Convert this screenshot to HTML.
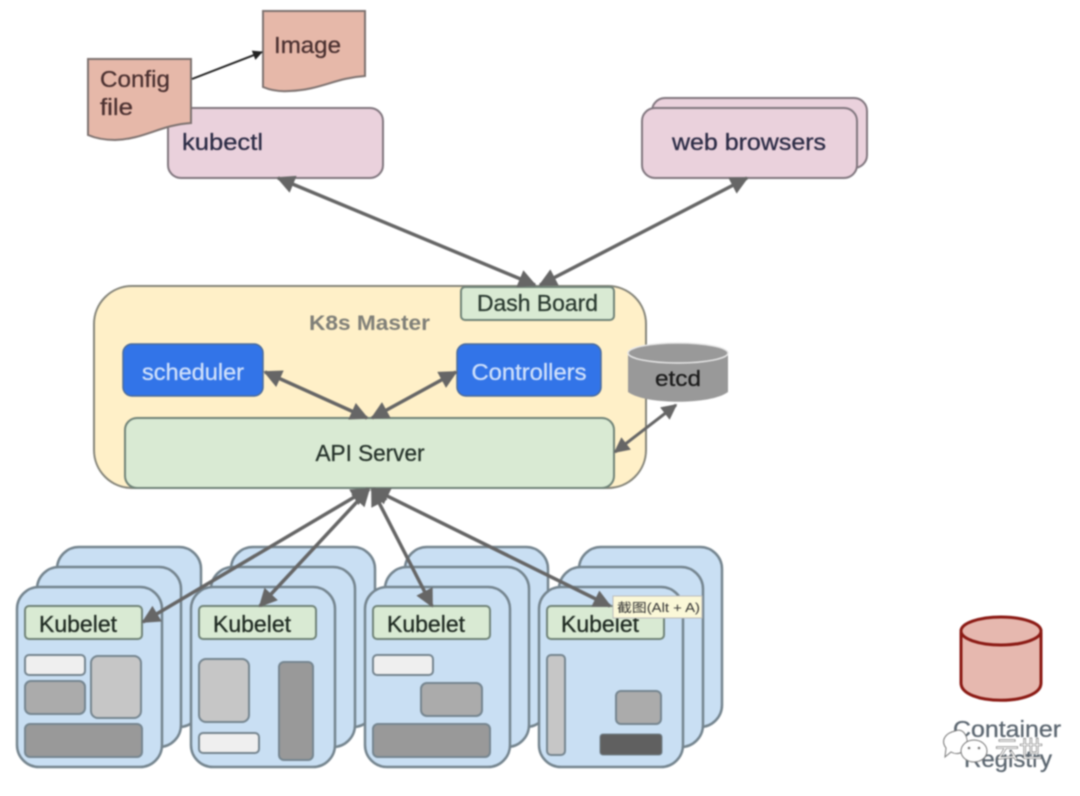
<!DOCTYPE html>
<html>
<head>
<meta charset="utf-8">
<style>
html,body{margin:0;padding:0;background:#fff;width:1080px;height:796px;overflow:hidden}
svg{display:block;filter:blur(.8px)}
text{font-family:"Liberation Sans","Noto Sans CJK SC",sans-serif;stroke:currentColor;stroke-width:.3}
.n{fill:#c9dff3;stroke:#75858f;stroke-width:2.5}
.g{fill:#d9ead3;stroke:#708378;stroke-width:2}
.l{fill:#c6c6c6;stroke:#75858f;stroke-width:2}
.m{fill:#ababab;stroke:#75858f;stroke-width:2}
.d{fill:#999;stroke:#75858f;stroke-width:2}
.w{fill:#efefef;stroke:#75858f;stroke-width:2}
.k{font-size:23px;fill:#1f2a22;color:#1f2a22}
.a{stroke:#666;stroke-width:3.5;fill:none;marker-start:url(#h);marker-end:url(#h)}
.doc{fill:#e6b8a9;stroke:#7d7270;stroke-width:2}
</style>
</head>
<body>
<svg width="1080" height="796" viewBox="0 0 1080 796" xmlns="http://www.w3.org/2000/svg">
<defs>
<marker id="h" viewBox="0 0 10 10" refX="9" refY="5" markerWidth="6" markerHeight="5.2" markerUnits="strokeWidth" orient="auto-start-reverse"><path d="M0 0L10 5L0 10z" fill="#666"/></marker>
<marker id="s" viewBox="0 0 10 10" refX="9" refY="5" markerWidth="6" markerHeight="5" markerUnits="strokeWidth" orient="auto"><path d="M0 0L10 5L0 10z" fill="#222"/></marker>
</defs>

<!-- kubectl / browsers -->
<rect x="168" y="108" width="215" height="70" rx="13" fill="#ead1dc" stroke="#80767e" stroke-width="2"/>
<text x="182" y="150" font-size="23" fill="#2b2b45" color="#2b2b45" textLength="81" lengthAdjust="spacingAndGlyphs">kubectl</text>
<rect x="652" y="98" width="215" height="70" rx="13" fill="#ead1dc" stroke="#80767e" stroke-width="2"/>
<rect x="642" y="108" width="215" height="70" rx="13" fill="#ead1dc" stroke="#80767e" stroke-width="2"/>
<text x="672" y="150" font-size="23" fill="#2b2b45" color="#2b2b45" textLength="154" lengthAdjust="spacingAndGlyphs">web browsers</text>

<!-- docs -->
<path class="doc" d="M263 11H365V76C335 78 320 90 290 91C278 92 270 90 263 87Z"/>
<text x="274" y="53" font-size="23" fill="#4a3030" color="#4a3030" textLength="67" lengthAdjust="spacingAndGlyphs">Image</text>
<path class="doc" d="M88 59H191V123C160 125 145 139 115 140C103 140 95 138 88 135Z"/>
<text x="100" y="87" font-size="23" fill="#4a3030" color="#4a3030" textLength="70" lengthAdjust="spacingAndGlyphs">Config</text>
<text x="100" y="115" font-size="23" fill="#4a3030" color="#4a3030" textLength="33" lengthAdjust="spacingAndGlyphs">file</text>
<line x1="192" y1="79" x2="262" y2="52" stroke="#222" stroke-width="2" marker-end="url(#s)"/>

<!-- master -->
<rect x="94" y="286" width="552" height="202" rx="38" fill="#fff0c8" stroke="#85857a" stroke-width="2"/>
<rect x="461" y="287" width="153" height="33" rx="4" class="g"/>
<text x="477" y="311" font-size="23" fill="#2a3a30" color="#2a3a30" textLength="121" lengthAdjust="spacingAndGlyphs">Dash Board</text>
<text x="309" y="330" font-size="21" font-weight="bold" fill="#7f7f78" color="#7f7f78" style="stroke-width:0" textLength="121" lengthAdjust="spacingAndGlyphs">K8s Master</text>
<rect x="123" y="344" width="140" height="52" rx="9" fill="#3274e8" stroke="#4a6a9a" stroke-width="1.5"/>
<text x="193" y="380" font-size="23" fill="#cfe0fb" color="#cfe0fb" text-anchor="middle" textLength="102" lengthAdjust="spacingAndGlyphs">scheduler</text>
<rect x="457" y="344" width="144" height="52" rx="9" fill="#3274e8" stroke="#4a6a9a" stroke-width="1.5"/>
<text x="529" y="380" font-size="23" fill="#cfe0fb" color="#cfe0fb" text-anchor="middle" textLength="115" lengthAdjust="spacingAndGlyphs">Controllers</text>
<rect x="125" y="418" width="489" height="70" rx="12" class="g"/>
<text x="370" y="461" font-size="23" fill="#26332b" color="#26332b" text-anchor="middle" textLength="109" lengthAdjust="spacingAndGlyphs">API Server</text>

<!-- etcd -->
<path d="M628 353V392C645 405 711 405 728 392V353Z" fill="#999"/>
<ellipse cx="678" cy="353" rx="50" ry="10" fill="#999" stroke="#e8e8e8" stroke-width="1.5"/>
<text x="678" y="386" font-size="22" fill="#1b1b1b" color="#1b1b1b" text-anchor="middle" textLength="46" lengthAdjust="spacingAndGlyphs">etcd</text>

<!-- nodes 1 -->
<rect x="57" y="547" width="144" height="180" rx="22" class="n"/><rect x="37" y="567" width="144" height="180" rx="22" class="n"/><rect x="17" y="587" width="145" height="180" rx="22" class="n"/>
<rect x="25" y="606" width="117" height="33" rx="4" class="g"/><text x="39" y="632" class="k" textLength="78" lengthAdjust="spacingAndGlyphs">Kubelet</text>
<rect x="25" y="655" width="60" height="20" rx="4" class="w"/><rect x="25" y="681" width="60" height="33" rx="6" class="m"/><rect x="91" y="656" width="50" height="62" rx="7" class="l"/><rect x="25" y="724" width="117" height="33" rx="5" class="d"/>

<!-- nodes 2 -->
<rect x="231" y="547" width="144" height="180" rx="22" class="n"/><rect x="211" y="567" width="144" height="180" rx="22" class="n"/><rect x="191" y="587" width="144" height="180" rx="22" class="n"/>
<rect x="199" y="606" width="117" height="33" rx="4" class="g"/><text x="213" y="632" class="k" textLength="78" lengthAdjust="spacingAndGlyphs">Kubelet</text>
<rect x="199" y="659" width="50" height="63" rx="7" class="l"/><rect x="279" y="662" width="34" height="98" rx="5" class="d"/><rect x="199" y="733" width="60" height="20" rx="4" class="w"/>

<!-- nodes 3 -->
<rect x="405" y="547" width="143" height="180" rx="22" class="n"/><rect x="385" y="567" width="144" height="180" rx="22" class="n"/><rect x="365" y="587" width="145" height="180" rx="22" class="n"/>
<rect x="373" y="606" width="117" height="33" rx="4" class="g"/><text x="387" y="632" class="k" textLength="78" lengthAdjust="spacingAndGlyphs">Kubelet</text>
<rect x="373" y="655" width="60" height="20" rx="4" class="w"/><rect x="421" y="683" width="61" height="33" rx="6" class="m"/><rect x="373" y="724" width="117" height="33" rx="5" class="d"/>

<!-- nodes 4 -->
<rect x="579" y="547" width="143" height="180" rx="22" class="n"/><rect x="559" y="567" width="144" height="180" rx="22" class="n"/><rect x="539" y="587" width="144" height="180" rx="22" class="n"/>
<rect x="547" y="606" width="117" height="33" rx="4" class="g"/><text x="561" y="632" class="k" textLength="78" lengthAdjust="spacingAndGlyphs">Kubelet</text>
<rect x="547" y="655" width="18" height="100" rx="4" class="l"/><rect x="616" y="691" width="45" height="33" rx="5" class="m"/><rect x="600" y="734" width="62" height="21" rx="3" fill="#606060" stroke="#75858f" stroke-width="1"/>

<!-- arrows -->
<line class="a" x1="278" y1="178" x2="535" y2="285"/>
<line class="a" x1="747" y1="178" x2="540" y2="285"/>
<line class="a" x1="265" y1="372" x2="367" y2="418"/>
<line class="a" x1="456" y1="372" x2="372" y2="418"/>
<line class="a" style="stroke-width:3" x1="676" y1="405" x2="615" y2="452"/>
<line class="a" x1="368" y1="489" x2="143" y2="622"/>
<line class="a" x1="369" y1="489" x2="260" y2="606"/>
<line class="a" x1="372" y1="489" x2="432" y2="606"/>
<line class="a" x1="373" y1="489" x2="610" y2="606"/>

<!-- tooltip -->
<rect x="613" y="596" width="89" height="22" fill="#fbf8d8" stroke="#bbb" stroke-width="1"/>
<text x="617" y="612" font-size="12.5" fill="#333" color="#333" style="stroke-width:0" textLength="83" lengthAdjust="spacingAndGlyphs">截图(Alt + A)</text>

<!-- registry -->
<path d="M961 632V683C961 706 1041 706 1041 683V632" fill="#e6b8af" stroke="#8b1a14" stroke-width="3"/>
<ellipse cx="1001" cy="631" rx="40" ry="14" fill="#e6b8af" stroke="#8b1a14" stroke-width="3"/>
<text x="1007" y="737" font-size="23" fill="#5b6670" color="#5b6670" text-anchor="middle" textLength="108" lengthAdjust="spacingAndGlyphs">Container</text>
<text x="1008" y="767" font-size="23" fill="#5b6670" color="#5b6670" text-anchor="middle" textLength="88" lengthAdjust="spacingAndGlyphs">Registry</text>

<!-- watermark -->
<path d="M955 731C964 727 968 738 967 744C966 752 958 756 951 752L945 757L946 748C940 740 946 733 955 731Z" fill="#fff" stroke="#777" stroke-width="1"/>
<ellipse cx="974" cy="751" rx="13" ry="11" fill="#fff" stroke="#777" stroke-width="1"/>
<circle cx="969" cy="748" r="1.3" fill="#777"/><circle cx="979" cy="748" r="1.3" fill="#777"/>
<text x="995" y="758" font-size="24" fill="#fff" color="#666" style="stroke-width:.6">云世</text>
</svg>
</body>
</html>
